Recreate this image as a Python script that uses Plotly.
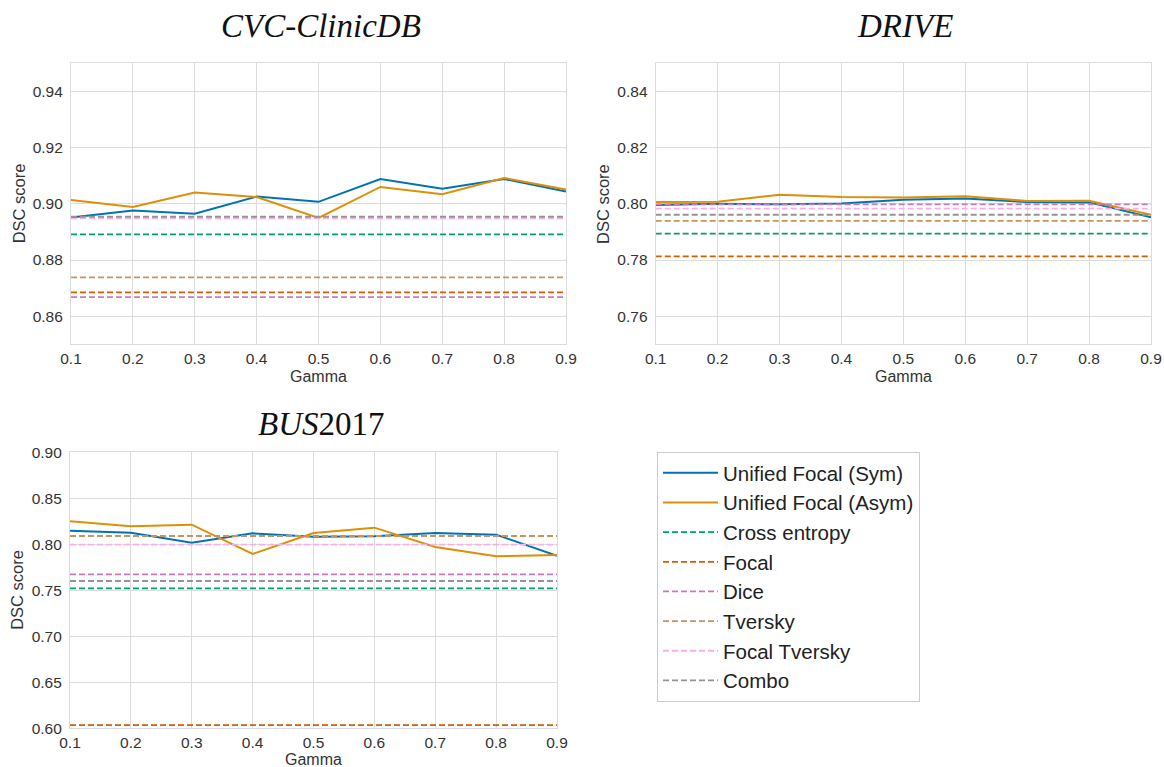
import plotly.graph_objects as go

gamma = [0.1, 0.2, 0.3, 0.4, 0.5, 0.6, 0.7, 0.8, 0.9]
tick_labels = ["0.1", "0.2", "0.3", "0.4", "0.5", "0.6", "0.7", "0.8", "0.9"]

series_names = ["Unified Focal (Sym)", "Unified Focal (Asym)"]
baseline_names = ["Cross entropy", "Focal", "Dice", "Tversky", "Focal Tversky", "Combo"]

# CVC-ClinicDB
cvc_sym = [0.8951, 0.8976, 0.8965, 0.9026, 0.9007, 0.9088, 0.9054, 0.9088, 0.9044]
cvc_asym = [0.9014, 0.8989, 0.9040, 0.9024, 0.8950, 0.9060, 0.9034, 0.9092, 0.9051]
cvc_base = [0.8891, 0.8685, 0.8668, 0.8738, 0.8948, 0.8954]

# DRIVE
drive_sym = [0.7996, 0.8000, 0.7998, 0.8001, 0.8014, 0.8019, 0.8006, 0.8005, 0.7952]
drive_asym = [0.8006, 0.8007, 0.8032, 0.8024, 0.8022, 0.8027, 0.8010, 0.8011, 0.7961]
drive_base = [0.7894, 0.7813, 0.7998, 0.7939, 0.7983, 0.7961]

# BUS2017
bus_sym = [0.8148, 0.8126, 0.8018, 0.8119, 0.8083, 0.8087, 0.8123, 0.8105, 0.7876]
bus_asym = [0.8250, 0.8195, 0.8213, 0.7895, 0.8123, 0.8181, 0.7971, 0.7870, 0.7884]
bus_base = [0.7521, 0.6035, 0.7674, 0.8090, 0.7996, 0.7601]

series_colors = ["#0173b2", "#de8f05"]
baseline_colors = ["#029e73", "#d55e00", "#cc78bc", "#ca9161", "#fbafe4", "#949494"]

W, H = 1164, 767
panels = [
    dict(sym=cvc_sym, asym=cvc_asym, base=cvc_base, px=(71, 566), py=(63.3, 344.3),
         yr=[0.85, 0.95], tick0=0.86, dtick=0.02, fmt=".2f", gy=32),
    dict(sym=drive_sym, asym=drive_asym, base=drive_base, px=(655.7, 1151), py=(63.3, 344.3),
         yr=[0.75, 0.85], tick0=0.76, dtick=0.02, fmt=".2f", gy=32),
    dict(sym=bus_sym, asym=bus_asym, base=bus_base, px=(70, 557), py=(452.3, 728.3),
         yr=[0.60, 0.90], tick0=0.60, dtick=0.05, fmt=".2f", gy=31.5),
]

fig = go.Figure()
grid = "#dcdcdc"
txt = "#333333"
tickfont = dict(family="Liberation Sans, Arial, sans-serif", size=15.5, color=txt)

for i, p in enumerate(panels):
    sfx = "" if i == 0 else str(i + 1)
    xa, ya = "x" + sfx, "y" + sfx
    show = i == 0
    for name, vals, col in zip(series_names, [p["sym"], p["asym"]], series_colors):
        fig.add_trace(go.Scatter(x=gamma, y=vals, mode="lines", name=name, legendgroup=name,
                                 showlegend=show, line=dict(color=col, width=2),
                                 xaxis=xa, yaxis=ya))
    for name, v, col in zip(baseline_names, p["base"], baseline_colors):
        fig.add_trace(go.Scatter(x=[gamma[0], gamma[-1]], y=[v, v], mode="lines", name=name,
                                 legendgroup=name, showlegend=show,
                                 line=dict(color=col, width=1.8, dash="6px,3px"),
                                 xaxis=xa, yaxis=ya))
    axcommon = dict(showgrid=True, gridcolor=grid, gridwidth=1, showline=True, linecolor=grid,
                    linewidth=1.2, mirror=True, zeroline=False, tickfont=tickfont,
                    automargin=False)
    fig.layout["xaxis" + sfx] = dict(axcommon, domain=[p["px"][0] / W, p["px"][1] / W],
                                     range=[0.1, 0.9], tickvals=gamma, ticktext=tick_labels,
                                     ticks="", anchor=ya)
    fig.layout["yaxis" + sfx] = dict(axcommon, domain=[1 - p["py"][1] / H, 1 - p["py"][0] / H],
                                     range=p["yr"], tick0=p["tick0"], dtick=p["dtick"],
                                     tickformat=p["fmt"], ticks="outside", ticklen=4,
                                     tickcolor="rgba(0,0,0,0)", anchor=xa)
    # axis titles
    cx = (p["px"][0] + p["px"][1]) / 2
    fig.add_annotation(x=cx / W, y=1 - (p["py"][1] + p["gy"]) / H, xref="paper", yref="paper",
                       xanchor="center", yanchor="middle",
                       text="Gamma", showarrow=False,
                       font=dict(family="Liberation Sans, Arial, sans-serif", size=16, color=txt))
    fig.add_annotation(x=(p["px"][0] - 52.5) / W, y=1 - ((p["py"][0] + p["py"][1]) / 2) / H,
                       xref="paper", yref="paper", xanchor="center", yanchor="middle",
                       text="DSC score", textangle=-90, showarrow=False,
                       font=dict(family="Liberation Sans, Arial, sans-serif", size=16.5, color=txt))

titles = [("<i>CVC-ClinicDB</i>", 321, 26), ("<i>DRIVE</i>", 905, 26), ("<i>BUS</i>2017", 321, 424)]
for t, x, y in titles:
    fig.add_annotation(x=x / W, y=1 - y / H, xref="paper", yref="paper", text=t, showarrow=False,
                       xanchor="center", yanchor="middle",
                       font=dict(family="Liberation Serif, Times New Roman, serif", size=33,
                                 color="#111111"))

fig.update_layout(
    width=W, height=H, margin=dict(l=0, r=0, t=0, b=0, autoexpand=False),
    paper_bgcolor="white", plot_bgcolor="white",
    legend=dict(x=657 / W, y=1 - 452 / H, xanchor="left", yanchor="top",
                bgcolor="white", bordercolor="#cccccc", borderwidth=1,
                font=dict(family="Liberation Sans, Arial, sans-serif", size=20.5, color="#222222"),
                tracegroupgap=0, itemwidth=55),
)

fig.write_html("out.html", config={"displayModeBar": False},
               post_script="document.body.style.margin='0';")
